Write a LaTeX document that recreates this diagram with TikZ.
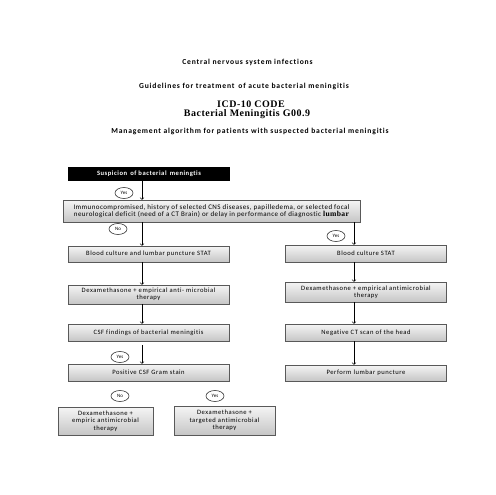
\documentclass[tikz,border=0pt]{standalone}
\usepackage{fontspec}
\setmainfont{Carlito}
\newfontfamily\titlefont[LetterSpace=5]{Liberation Serif}
\newfontfamily\headfont[LetterSpace=11,Ligatures=NoCommon]{Carlito}
\newfontfamily\boxfont[LetterSpace=8,Ligatures=NoCommon]{Carlito}
\newfontfamily\critfont[LetterSpace=6,Ligatures=NoCommon]{Carlito}
\usetikzlibrary{shapes.geometric,shadows}
\tikzset{
  box/.style={draw=gray!70!black, top color=gray!8, bottom color=gray!45,
    drop shadow={shadow xshift=.8pt, shadow yshift=-.8pt, opacity=.4},
    minimum width=161pt, align=center, inner sep=1pt, font=\boxfont\fontsize{6.6}{7.4}\selectfont, text=black},
  darkbox/.style={fill=black, text=white, minimum width=162pt, minimum height=14pt,
    inner sep=1pt, font=\boxfont\bfseries\fontsize{6.6}{7.4}\selectfont},
  answer/.style={ellipse, draw=black!80, minimum width=18pt, minimum height=11pt,
    inner sep=0pt, font=\fontsize{5}{5}\selectfont},
  head/.style={font=\headfont\bfseries\fontsize{7.6}{8}\selectfont},
  code/.style={font=\titlefont\bfseries\fontsize{10}{11}\selectfont},
}
\begin{document}
\begin{tikzpicture}[>=to, x=1pt, y=-1pt, line width=.6pt]
\useasboundingbox[fill=white] (0,0) rectangle (495,495);
% titles
\node[head] (t1) at (247.5,62) {Central nervous system infections};
\node[head] (t2) at (244,86) {Guidelines for treatment\, of acute bacterial meningitis};
\node[code] (t3) at (251,104) {ICD-10 CODE};
\node[code] (t4) at (247,114.5) {Bacterial Meningitis G00.9};
\node[head] (t5) at (250,131) {Management algorithm for patients with suspected bacterial meningitis};
% column lines
\coordinate (colL) at (142,0);
\coordinate (colR) at (354,0);
% left column
\node[darkbox] (susp) at (149,174) {Suspicion\, of bacterial\, meningtis};
\node[box, minimum width=297pt, minimum height=22pt, font=\critfont\fontsize{7}{7.6}\selectfont] (crit) at (211.5,211)
  {Immunocompromised, history of selected CNS diseases, papilledema, or selected focal\\
   neurological deficit (need of a CT Brain) or delay in performance of diagnostic {\titlefont\bfseries\fontsize{7.6}{7.6}\selectfont lumbar}};
\node[box, minimum height=16pt] (bloodL) at (148.5,254) {Blood culture and lumbar puncture STAT};
\node[box, minimum height=19pt] (dexaL) at (148.5,294.5) {Dexamethasone + empirical anti- microbial\\therapy};
\node[box, minimum height=17pt] (csf) at (148.5,332.5) {CSF findings of bacterial meningitis};
\node[box, minimum height=17pt] (gram) at (148.5,372.5) {Positive CSF Gram stain};
\node[box, minimum width=95pt, minimum height=28pt] (empL) at (105.5,421) {Dexamethasone +\\empiric antimicrobial\\therapy};
\node[box, minimum width=101pt, minimum height=29pt] (targ) at (224.5,420.5) {Dexamethasone +\\targeted antimicrobial\\therapy};
% right column
\node[box, minimum height=17pt] (bloodR) at (366,253.5) {Blood culture STAT};
\node[box, minimum height=20pt] (dexaR) at (366,292) {Dexamethasone + empirical antimicrobial\\therapy};
\node[box, minimum height=17pt] (ct) at (366,332.5) {Negative CT scan of the head};
\node[box, minimum height=16pt] (lp) at (366,373) {Perform lumbar puncture};
% answers
\node[answer] (y1) at (124,193) {Yes};
\node[answer] (n1) at (118,229) {No};
\node[answer] (y2) at (336,236) {Yes};
\node[answer] (y3) at (120,357) {Yes};
\node[answer] (n2) at (120,396) {No};
\node[answer] (y4) at (215,396) {Yes};
% arrows
\draw[->] (susp.south -| colL) -- (crit.north -| colL);
\draw[->] (crit.south -| colL) -- (bloodL.north -| colL);
\draw[->] (bloodL.south -| colL) -- (dexaL.north -| colL);
\draw[->] (dexaL.south -| colL) -- (csf.north -| colL);
\draw[->] ([yshift=-4pt]csf.south -| colL) -- (gram.north -| colL);
\draw[->] (crit.south -| colR) -- (bloodR.north -| colR);
\draw[->] (bloodR.south -| colR) -- (dexaR.north -| colR);
\draw[->] (dexaR.south -| colR) -- (ct.north -| colR);
\draw[->] (ct.south -| colR) -- (lp.north -| colR);
\end{tikzpicture}
\end{document}
